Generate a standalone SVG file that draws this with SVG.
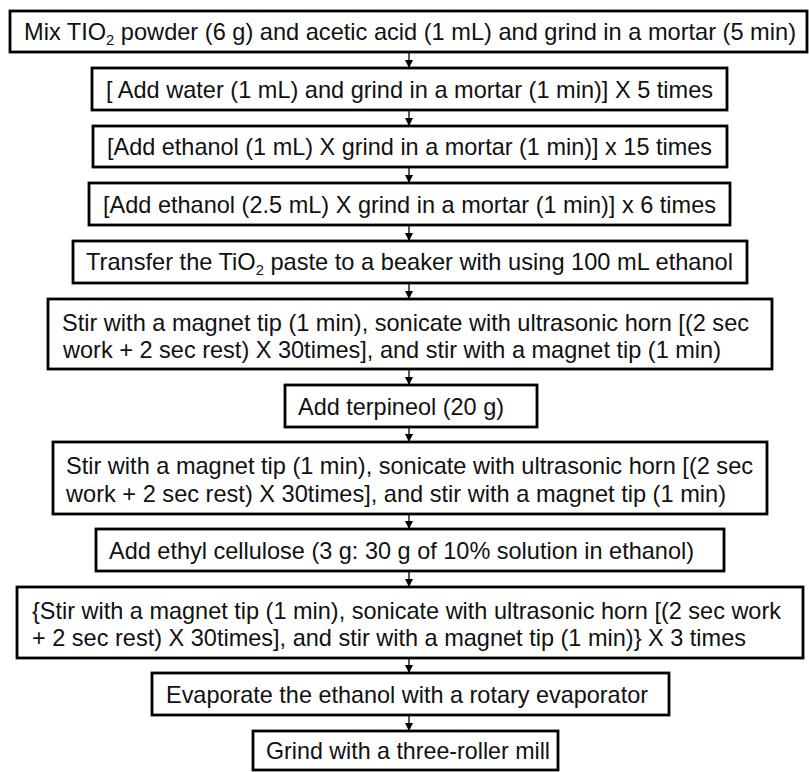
<svg xmlns="http://www.w3.org/2000/svg" width="809" height="772" viewBox="0 0 809 772">
<style>
.box{fill:#fff;stroke:#000;stroke-width:2.8}
.t{font-family:"Liberation Sans",Arial,sans-serif;font-size:24px;fill:#111}
.sub{font-size:15px}
.con{stroke:#000;stroke-width:1.3;fill:none}
</style>
<defs>
<marker id="ah" markerWidth="8" markerHeight="8" refX="7" refY="4" orient="auto" markerUnits="userSpaceOnUse">
<path d="M0,0 L8,4 L0,8 Z" fill="#000"/>
</marker>
</defs>
<rect width="809" height="772" fill="#fff"/>
<g id="connectors">
<line class="con" x1="409" y1="52" x2="409" y2="67" marker-end="url(#ah)"/>
<line class="con" x1="409" y1="110" x2="409" y2="125" marker-end="url(#ah)"/>
<line class="con" x1="409" y1="167" x2="409" y2="182" marker-end="url(#ah)"/>
<line class="con" x1="409" y1="225" x2="409" y2="240" marker-end="url(#ah)"/>
<line class="con" x1="409" y1="283" x2="409" y2="298" marker-end="url(#ah)"/>
<line class="con" x1="409" y1="369" x2="409" y2="384" marker-end="url(#ah)"/>
<line class="con" x1="409" y1="427" x2="409" y2="441" marker-end="url(#ah)"/>
<line class="con" x1="409" y1="514" x2="409" y2="528" marker-end="url(#ah)"/>
<line class="con" x1="409" y1="571" x2="409" y2="586" marker-end="url(#ah)"/>
<line class="con" x1="409" y1="658" x2="409" y2="672" marker-end="url(#ah)"/>
<line class="con" x1="409" y1="715" x2="409" y2="730" marker-end="url(#ah)"/>
</g>
<g id="n1">
<rect class="box" x="10" y="11" width="797" height="41"/>
<text class="t" x="24" y="40" textLength="772" lengthAdjust="spacingAndGlyphs">Mix TIO<tspan class="sub" dy="5">2</tspan><tspan dy="-5"> powder (6 g) and acetic acid (1 mL) and grind in a mortar (5 min)</tspan></text>
</g>
<g id="n2">
<rect class="box" x="92" y="68" width="635" height="42"/>
<text class="t" x="106" y="98" textLength="607" lengthAdjust="spacingAndGlyphs">[ Add water (1 mL) and grind in a mortar (1 min)] X 5 times</text>
</g>
<g id="n3">
<rect class="box" x="93" y="126" width="634" height="41"/>
<text class="t" x="107" y="155" textLength="605" lengthAdjust="spacingAndGlyphs">[Add ethanol (1 mL) X grind in a mortar (1 min)] x 15 times</text>
</g>
<g id="n4">
<rect class="box" x="89" y="183" width="641" height="42"/>
<text class="t" x="103" y="213" textLength="613" lengthAdjust="spacingAndGlyphs">[Add ethanol (2.5 mL) X grind in a mortar (1 min)] x 6 times</text>
</g>
<g id="n5">
<rect class="box" x="73" y="241" width="674" height="42"/>
<text class="t" x="86" y="270" textLength="647" lengthAdjust="spacingAndGlyphs">Transfer the TiO<tspan class="sub" dy="5">2</tspan><tspan dy="-5"> paste to a beaker with using 100 mL ethanol</tspan></text>
</g>
<g id="n6">
<rect class="box" x="48" y="299" width="724" height="70"/>
<text class="t" x="62" y="331" textLength="687" lengthAdjust="spacingAndGlyphs">Stir with a magnet tip (1 min), sonicate with ultrasonic horn [(2 sec</text>
<text class="t" x="63" y="358" textLength="658" lengthAdjust="spacingAndGlyphs">work + 2 sec rest) X 30times], and stir with a magnet tip (1 min)</text>
</g>
<g id="n7">
<rect class="box" x="285" y="385" width="252" height="42"/>
<text class="t" x="298" y="415" textLength="206" lengthAdjust="spacingAndGlyphs">Add terpineol (20 g)</text>
</g>
<g id="n8">
<rect class="box" x="53" y="442" width="714" height="72"/>
<text class="t" x="66" y="474" textLength="687" lengthAdjust="spacingAndGlyphs">Stir with a magnet tip (1 min), sonicate with ultrasonic horn [(2 sec</text>
<text class="t" x="66" y="502" textLength="660" lengthAdjust="spacingAndGlyphs">work + 2 sec rest) X 30times], and stir with a magnet tip (1 min)</text>
</g>
<g id="n9">
<rect class="box" x="96" y="529" width="628" height="42"/>
<text class="t" x="109" y="559" textLength="585" lengthAdjust="spacingAndGlyphs">Add ethyl cellulose (3 g: 30 g of 10% solution in ethanol)</text>
</g>
<g id="n10">
<rect class="box" x="17" y="587" width="786" height="71"/>
<text class="t" x="32" y="619" textLength="749" lengthAdjust="spacingAndGlyphs">{Stir with a magnet tip (1 min), sonicate with ultrasonic horn [(2 sec work</text>
<text class="t" x="32" y="646" textLength="714" lengthAdjust="spacingAndGlyphs">+ 2 sec rest) X 30times], and stir with a magnet tip (1 min)} X 3 times</text>
</g>
<g id="n11">
<rect class="box" x="152" y="673" width="517" height="42"/>
<text class="t" x="166" y="703" textLength="482" lengthAdjust="spacingAndGlyphs">Evaporate the ethanol with a rotary evaporator</text>
</g>
<g id="n12">
<rect class="box" x="253" y="731" width="305" height="39"/>
<text class="t" x="266" y="759" textLength="284" lengthAdjust="spacingAndGlyphs">Grind with a three-roller mill</text>
</g>
</svg>
